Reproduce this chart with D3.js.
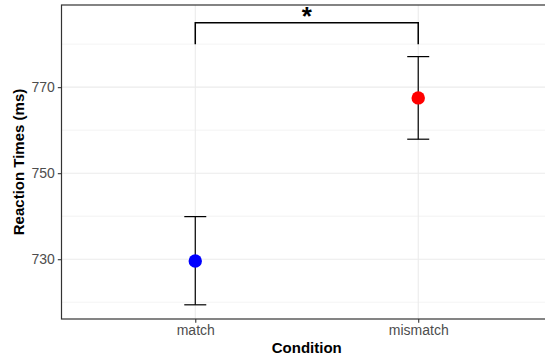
<!DOCTYPE html>
<html>
<head>
<meta charset="utf-8">
<script src="https://cdn.jsdelivr.net/npm/d3@7"></script>
<style>
  body { margin: 0; background: #fff; }
  text { font-family: "Liberation Sans", Arial, sans-serif; }
</style>
</head>
<body>
<figure id="plot" style="margin:0"></figure>
<script>
// values
const conditions = ["match", "mismatch"];
const means = [729.6, 767.5];
const lower = [719.4, 757.9];
const upper = [739.9, 777.1];
const pointColors = ["#0000FF", "#FF0000"];
const majorTicks = [730, 750, 770];
const minorTicks = [720, 740, 760, 780];
const sigLabel = "*";
const bracketTop = 785;
const bracketFoot = 780;

const width = 545, height = 358;
const panel = { left: 61.5, right: 552, top: 5, bottom: 319 };

const svg = d3.select("figure#plot")
  .append("svg")
  .attr("width", width)
  .attr("height", height);

const x = d3.scalePoint()
  .domain(conditions)
  .range([panel.left, panel.right])
  .padding(0.6);

const y = d3.scaleLinear()
  .domain([716.1, 789.1])
  .range([panel.bottom, panel.top]);

// grid
const grid = svg.append("g");
grid.selectAll("line.minor")
  .data(minorTicks).enter().append("line")
  .attr("x1", panel.left).attr("x2", panel.right)
  .attr("y1", d => y(d)).attr("y2", d => y(d))
  .attr("stroke", "#EBEBEB").attr("stroke-width", 0.6);
grid.selectAll("line.major")
  .data(majorTicks).enter().append("line")
  .attr("x1", panel.left).attr("x2", panel.right)
  .attr("y1", d => y(d)).attr("y2", d => y(d))
  .attr("stroke", "#EBEBEB").attr("stroke-width", 1.1);
grid.selectAll("line.vx")
  .data(conditions).enter().append("line")
  .attr("x1", d => x(d)).attr("x2", d => x(d))
  .attr("y1", panel.top).attr("y2", panel.bottom)
  .attr("stroke", "#EBEBEB").attr("stroke-width", 1.1);

// error bars
const eb = svg.append("g").attr("stroke", "#000").attr("stroke-width", 1.2);
eb.selectAll("line.v")
  .data(conditions).enter().append("line")
  .attr("x1", d => x(d)).attr("x2", d => x(d))
  .attr("y1", (d, i) => y(lower[i])).attr("y2", (d, i) => y(upper[i]));
eb.selectAll("line.top")
  .data(conditions).enter().append("line")
  .attr("x1", d => x(d) - 11).attr("x2", d => x(d) + 11)
  .attr("y1", (d, i) => y(upper[i])).attr("y2", (d, i) => y(upper[i]));
eb.selectAll("line.bot")
  .data(conditions).enter().append("line")
  .attr("x1", d => x(d) - 11).attr("x2", d => x(d) + 11)
  .attr("y1", (d, i) => y(lower[i])).attr("y2", (d, i) => y(lower[i]));

// points
svg.selectAll("circle")
  .data(conditions).enter().append("circle")
  .attr("cx", d => x(d))
  .attr("cy", (d, i) => y(means[i]))
  .attr("r", 6.7)
  .attr("fill", (d, i) => pointColors[i]);

// significance bracket
const bracket = [
  [x(conditions[0]), y(bracketFoot)],
  [x(conditions[0]), y(bracketTop)],
  [x(conditions[1]), y(bracketTop)],
  [x(conditions[1]), y(bracketFoot)]
];
svg.append("path")
  .attr("d", d3.line()(bracket))
  .attr("fill", "none")
  .attr("stroke", "#000")
  .attr("stroke-width", 1.5);
svg.append("text")
  .attr("x", (x(conditions[0]) + x(conditions[1])) / 2)
  .attr("y", y(bracketTop) + 2)
  .attr("text-anchor", "middle")
  .style("font-size", "26px")
  .style("font-weight", "bold")
  .text(sigLabel);

// panel border
svg.append("rect")
  .attr("x", panel.left).attr("y", panel.top)
  .attr("width", panel.right - panel.left)
  .attr("height", panel.bottom - panel.top)
  .attr("fill", "none")
  .attr("stroke", "#333333")
  .attr("stroke-width", 1.2);

// axes
const yAxis = svg.append("g")
  .attr("transform", "translate(" + panel.left + ",0)")
  .call(d3.axisLeft(y).tickValues(majorTicks).tickSize(3.7).tickPadding(3));
const xAxis = svg.append("g")
  .attr("transform", "translate(0," + panel.bottom + ")")
  .call(d3.axisBottom(x).tickSize(3.7).tickPadding(2));
[yAxis, xAxis].forEach(a => {
  a.select(".domain").remove();
  a.selectAll(".tick line").attr("stroke", "#333333").attr("stroke-width", 1.1);
  a.selectAll(".tick text")
    .attr("fill", "#4D4D4D")
    .style("font-family", "'Liberation Sans', Arial, sans-serif")
    .style("font-size", "14px");
});

svg.append("text")
  .attr("x", (panel.left + panel.right) / 2)
  .attr("y", 353)
  .attr("text-anchor", "middle")
  .style("font-size", "15px")
  .style("font-weight", "bold")
  .text("Condition");

svg.append("text")
  .attr("transform", "translate(23.5," + (panel.top + panel.bottom) / 2 + ") rotate(-90)")
  .attr("text-anchor", "middle")
  .style("font-size", "15px")
  .style("font-weight", "bold")
  .text("Reaction Times (ms)");
</script>
</body>
</html>
